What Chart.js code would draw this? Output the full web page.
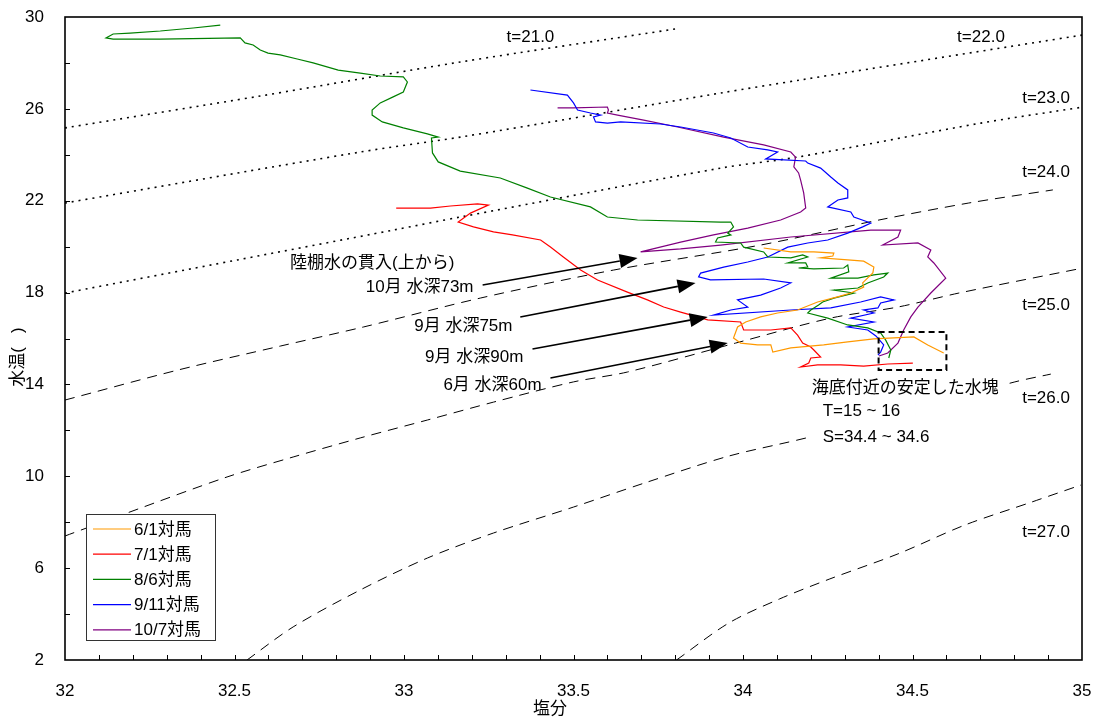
<!DOCTYPE html>
<html>
<head>
<meta charset="utf-8">
<title>T-S diagram</title>
<script src="https://cdn.jsdelivr.net/npm/chart.js@4.4.0/dist/chart.umd.min.js"></script>
<style>
  html, body { margin: 0; padding: 0; background: #ffffff; }
</style>
</head>
<body>
<canvas id="tsChart" width="1093" height="720"></canvas>
<script>
// axis ticks (salinity / temperature)
var xTicks = [32, 32.5, 33, 33.5, 34, 34.5, 35];
var yTicks = [2, 6, 10, 14, 18, 22, 26, 30];

var seriesNames = ["6/1対馬", "7/1対馬", "8/6対馬", "9/11対馬", "10/7対馬"];
var seriesColors = ["#ff9900", "#ff0000", "#008000", "#0000ff", "#800080"];

var junS = [34.061, 34.141, 34.209, 34.268, 34.265, 34.229, 34.309, 34.356, 34.386, 34.383, 34.353, 34.356, 34.318, 34.279, 34.220, 34.161, 34.102, 34.052, 34.008, 33.984, 33.972, 33.993, 34.043, 34.082, 34.088, 34.141, 34.238, 34.309, 34.386, 34.504, 34.545, 34.592];
var junT = [19.94, 19.77, 19.77, 19.72, 19.59, 19.51, 19.42, 19.37, 19.11, 18.85, 18.42, 18.24, 17.98, 17.81, 17.59, 17.24, 17.11, 16.94, 16.72, 16.50, 16.02, 15.80, 15.72, 15.72, 15.41, 15.59, 15.72, 15.85, 15.98, 16.07, 15.72, 15.37];

var julS = [32.977, 33.028, 33.078, 33.137, 33.217, 33.249, 33.196, 33.160, 33.205, 33.264, 33.320, 33.403, 33.432, 33.470, 33.521, 33.571, 33.659, 33.718, 33.766, 33.816, 33.866, 33.896, 33.993, 34.002, 34.082, 34.141, 34.161, 34.176, 34.200, 34.209, 34.229, 34.200, 34.194, 34.170, 34.220, 34.288, 34.356, 34.427, 34.501];
var julT = [21.68, 21.68, 21.68, 21.77, 21.86, 21.81, 21.46, 21.07, 20.86, 20.64, 20.51, 20.29, 19.98, 19.55, 18.98, 18.55, 18.02, 17.68, 17.37, 17.15, 16.94, 16.81, 16.72, 16.37, 16.37, 16.46, 16.15, 15.80, 15.63, 15.50, 15.19, 15.15, 14.93, 14.76, 14.85, 14.85, 14.80, 14.89, 14.93];

var augS = [32.458, 32.378, 32.281, 32.192, 32.142, 32.121, 32.142, 32.281, 32.517, 32.531, 32.555, 32.576, 32.599, 32.635, 32.685, 32.732, 32.806, 32.871, 32.930, 32.998, 33.010, 32.998, 32.968, 32.930, 32.906, 32.906, 32.936, 32.998, 33.069, 33.101, 33.081, 33.084, 33.101, 33.166, 33.284, 33.364, 33.432, 33.550, 33.600, 33.689, 33.934, 33.964, 33.972, 33.955, 33.964, 33.925, 33.919, 33.993, 34.002, 34.061, 34.073, 34.141, 34.176, 34.191, 34.132, 34.185, 34.191, 34.164, 34.209, 34.297, 34.309, 34.312, 34.259, 34.339, 34.386, 34.427, 34.415, 34.368, 34.339, 34.268, 34.327, 34.268, 34.235, 34.223, 34.200, 34.191, 34.250, 34.309, 34.368, 34.406, 34.421, 34.436, 34.430];
var augT = [29.65, 29.52, 29.39, 29.30, 29.26, 29.09, 29.04, 29.04, 29.09, 28.87, 28.78, 28.56, 28.43, 28.35, 28.17, 28.00, 27.69, 27.56, 27.43, 27.39, 27.17, 26.73, 26.52, 26.26, 25.95, 25.73, 25.43, 25.17, 24.91, 24.77, 24.73, 24.08, 23.69, 23.29, 22.99, 22.55, 22.16, 21.73, 21.29, 21.16, 21.07, 21.07, 20.86, 20.59, 20.51, 20.38, 20.20, 20.16, 19.98, 19.77, 19.55, 19.51, 19.64, 19.55, 19.29, 19.29, 19.11, 19.07, 19.03, 19.07, 19.20, 18.90, 18.63, 18.63, 18.77, 18.85, 18.68, 18.42, 18.20, 18.11, 17.98, 17.76, 17.59, 17.46, 17.24, 17.11, 16.89, 16.59, 16.46, 16.24, 15.93, 15.50, 15.15];

var sepS = [33.373, 33.482, 33.500, 33.512, 33.550, 33.580, 33.559, 33.565, 33.600, 33.639, 33.757, 33.816, 33.913, 33.964, 34.014, 34.073, 34.102, 34.067, 34.185, 34.191, 34.229, 34.259, 34.280, 34.309, 34.309, 34.280, 34.250, 34.318, 34.327, 34.377, 34.353, 34.309, 34.250, 34.191, 34.132, 34.073, 34.014, 33.943, 33.875, 33.869, 33.904, 34.061, 34.141, 34.111, 34.052, 33.984, 34.014, 33.964, 33.913, 34.141, 34.259, 34.347, 34.406, 34.445, 34.406, 34.398, 34.356, 34.386, 34.318, 34.386, 34.309, 34.368, 34.392, 34.415, 34.406, 34.398];
var sepT = [26.82, 26.60, 26.26, 25.95, 25.82, 25.73, 25.65, 25.43, 25.38, 25.43, 25.34, 25.21, 24.95, 24.73, 24.34, 24.21, 24.12, 23.82, 23.73, 23.64, 23.42, 23.03, 22.77, 22.47, 22.12, 22.03, 21.73, 21.51, 21.29, 21.03, 20.86, 20.59, 20.29, 20.16, 19.98, 19.55, 19.33, 19.11, 18.85, 18.68, 18.55, 18.59, 18.42, 18.20, 17.89, 17.68, 17.37, 17.24, 17.02, 17.24, 17.33, 17.59, 17.81, 17.68, 17.55, 17.33, 17.24, 17.11, 16.89, 16.72, 16.50, 16.37, 16.11, 15.72, 15.41, 15.28];

var octS = [33.453, 33.500, 33.600, 33.603, 33.600, 33.630, 33.707, 33.807, 33.943, 34.061, 34.141, 34.155, 34.150, 34.164, 34.170, 34.179, 34.185, 34.170, 34.111, 34.014, 33.913, 33.816, 33.698, 33.816, 33.934, 34.141, 34.377, 34.465, 34.457, 34.412, 34.516, 34.554, 34.545, 34.563, 34.598, 34.554, 34.516, 34.495, 34.474, 34.457, 34.427, 34.401];
var octT = [26.04, 26.04, 26.08, 25.95, 25.82, 25.73, 25.51, 25.21, 24.77, 24.43, 24.12, 23.90, 23.47, 23.21, 22.90, 22.34, 21.68, 21.51, 21.16, 20.81, 20.51, 20.20, 19.77, 19.90, 20.07, 20.42, 20.72, 20.72, 20.42, 20.07, 20.16, 19.85, 19.55, 19.29, 18.63, 17.98, 17.37, 16.94, 16.37, 15.80, 15.37, 15.24];

// sigma-t isopycnals
var sigmaNames = ["t=21.0", "t=22.0", "t=23.0", "t=24.0", "t=25.0", "t=26.0", "t=27.0"];
var sig21S = [32.000, 32.576, 33.166, 33.801];
var sig21T = [25.17, 26.56, 28.04, 29.48];
var sig22S = [32.000, 32.871, 33.166, 33.934, 34.170, 35.003];
var sig22T = [21.90, 24.12, 24.77, 26.69, 27.26, 29.22];
var sig23S = [32.000, 32.508, 32.968, 33.166, 33.934, 34.161, 34.702, 35.003];
var sig23T = [17.98, 19.42, 20.72, 21.29, 23.42, 23.90, 25.38, 26.08];
var sig24S = [32.000, 32.334, 32.635, 32.880, 33.225, 33.618, 34.052, 34.401, 34.666, 34.914];
var sig24T = [13.32, 14.63, 15.67, 16.50, 17.76, 18.98, 20.07, 21.16, 21.90, 22.47];
var sig25S = [32.000, 32.183, 32.478, 32.673, 32.871, 33.069, 33.264, 33.500, 33.659, 33.978, 34.259, 34.457, 34.637, 35.003];
var sig25T = [7.40, 8.40, 9.97, 10.84, 11.67, 12.45, 13.23, 14.11, 14.54, 15.80, 16.89, 17.37, 17.98, 19.07];
var sig26S = [32.537, 32.673, 32.871, 33.069, 33.264, 33.500, 33.710, 33.958, 34.197, 34.802, 34.908];
var sig26T = [2.00, 3.44, 5.05, 6.44, 7.53, 8.66, 9.71, 10.88, 11.71, 14.11, 14.45];
var sig27S = [33.804, 33.958, 34.108, 34.256, 34.457, 34.655, 34.852, 34.997];
var sig27T = [2.00, 3.61, 4.66, 5.53, 6.62, 7.88, 8.88, 9.62];

var FONT = '"Liberation Sans", Arial, "Noto Sans CJK JP", sans-serif';

function toPoints(sArr, tArr) {
  return sArr.map(function (s, i) { return { x: s, y: tArr[i] }; });
}

var seriesData = [
  toPoints(junS, junT),
  toPoints(julS, julT),
  toPoints(augS, augT),
  toPoints(sepS, sepT),
  toPoints(octS, octT),
];
var sigmaData = [
  toPoints(sig21S, sig21T),
  toPoints(sig22S, sig22T),
  toPoints(sig23S, sig23T),
  toPoints(sig24S, sig24T),
  toPoints(sig25S, sig25T),
  toPoints(sig26S, sig26T),
  toPoints(sig27S, sig27T),
];

var datasets = [];
// profiles first so they are drawn on top
seriesData.forEach(function (pts, i) {
  datasets.push({
    label: seriesNames[i],
    data: pts,
    showLine: true,
    borderColor: seriesColors[i],
    borderWidth: 1.2,
    pointRadius: 0,
    tension: 0,
  });
});
sigmaData.forEach(function (pts, i) {
  datasets.push({
    label: sigmaNames[i],
    data: pts,
    showLine: true,
    borderColor: "#000000",
    borderWidth: i < 3 ? 1.6 : 1,
    borderDash: i < 3 ? [2, 5] : [10, 7],
    pointRadius: 0,
    tension: 0.3,
  });
});

// annotation positions are given in data units (salinity, temperature)
var sigmaLabelPos = [
  [33.373, 29.13], [34.702, 29.13], [34.894, 26.47], [34.894, 23.25],
  [34.894, 17.46], [34.894, 13.41], [34.894, 7.57],
];
var arrows = [
  { from: [33.232, 18.33], to: [33.689, 19.51] },
  { from: [33.343, 16.94], to: [33.860, 18.42] },
  { from: [33.379, 15.54], to: [33.896, 16.94] },
  { from: [33.432, 14.28], to: [33.955, 15.80] },
];
var arrowTexts = [
  { text: "陸棚水の貫入(上から)", at: [32.664, 19.29], align: "left" },
  { text: "10月 水深73m", at: [33.205, 18.24], align: "right" },
  { text: "9月 水深75m", at: [33.320, 16.54], align: "right" },
  { text: "9月 水深90m", at: [33.352, 15.19], align: "right" },
  { text: "6月 水深60m", at: [33.406, 13.97], align: "right" },
];
var boxS = [34.4, 34.6];
var boxT = [14.63, 16.28];
var bottomTexts = [
  { text: "海底付近の安定した水塊", at: [34.203, 13.84] },
  { text: "T=15 ~ 16", at: [34.235, 12.84] },
  { text: "S=34.4 ~ 34.6", at: [34.235, 11.71] },
];

// wanted plot rectangle on the 1093x720 canvas
var AREA = { left: 65, right: 1082, top: 17, bottom: 660 };

var decorPlugin = {
  id: "decor",
  afterDatasetsDraw: function (chart) {
    var ctx = chart.ctx;
    var xs = chart.scales.x, ys = chart.scales.y;
    var area = chart.chartArea;
    function px(p) { return [xs.getPixelForValue(p[0]), ys.getPixelForValue(p[1])]; }

    ctx.save();
    ctx.font = "17px " + FONT;
    ctx.fillStyle = "#000";
    ctx.textBaseline = "middle";

    // text block over the stable water mass (white backing hides the isopycnal)
    var b0 = px(bottomTexts[0].at);
    ctx.fillStyle = "#fff";
    ctx.fillRect(b0[0] - 2, b0[1] - 11, 198, 62);
    ctx.fillStyle = "#000";
    ctx.textAlign = "left";
    bottomTexts.forEach(function (t) {
      var p = px(t.at);
      ctx.fillText(t.text, p[0], p[1]);
    });

    // isopycnal labels
    ctx.textAlign = "center";
    sigmaLabelPos.forEach(function (pos, i) {
      var p = px(pos);
      ctx.fillText(sigmaNames[i], p[0], p[1]);
    });

    // arrow captions
    arrowTexts.forEach(function (t) {
      var p = px(t.at);
      ctx.textAlign = t.align;
      ctx.fillText(t.text, p[0], p[1]);
    });

    // arrows
    ctx.strokeStyle = "#000";
    ctx.lineWidth = 1.6;
    arrows.forEach(function (a) {
      var p0 = px(a.from), p1 = px(a.to);
      var ang = Math.atan2(p1[1] - p0[1], p1[0] - p0[0]);
      var len = 18, half = 7;
      var bx = p1[0] - len * Math.cos(ang), by = p1[1] - len * Math.sin(ang);
      ctx.beginPath();
      ctx.moveTo(p0[0], p0[1]);
      ctx.lineTo(bx, by);
      ctx.stroke();
      ctx.beginPath();
      ctx.moveTo(p1[0], p1[1]);
      ctx.lineTo(bx + half * Math.sin(ang), by - half * Math.cos(ang));
      ctx.lineTo(bx - half * Math.sin(ang), by + half * Math.cos(ang));
      ctx.closePath();
      ctx.fill();
    });

    // dashed box
    var c0 = px([boxS[0], boxT[1]]), c1 = px([boxS[1], boxT[0]]);
    ctx.lineWidth = 2;
    ctx.setLineDash([6, 4]);
    ctx.strokeRect(c0[0], c0[1], c1[0] - c0[0], c1[1] - c0[1]);
    ctx.setLineDash([]);

    // legend
    var lx = area.left + 21, ly = area.top + 497;
    ctx.fillStyle = "#fff";
    ctx.fillRect(lx, ly, 129, 126);
    ctx.strokeStyle = "#333";
    ctx.lineWidth = 1;
    ctx.strokeRect(lx + 0.5, ly + 0.5, 129, 126);
    ctx.textAlign = "left";
    seriesNames.forEach(function (name, i) {
      var yy = ly + 15 + i * 25.2;
      ctx.strokeStyle = seriesColors[i];
      ctx.lineWidth = 1.2;
      ctx.beginPath();
      ctx.moveTo(lx + 7, yy);
      ctx.lineTo(lx + 45, yy);
      ctx.stroke();
      ctx.fillStyle = "#000";
      ctx.fillText(name, lx + 48, yy + 1);
    });

    // frame and inward ticks
    ctx.strokeStyle = "#000";
    ctx.lineWidth = 1.6;
    ctx.strokeRect(area.left, area.top, area.right - area.left, area.bottom - area.top);
    ctx.lineWidth = 1;
    ctx.beginPath();
    for (var k = 1; k < 30; k++) {
      var x = Math.round(xs.getPixelForValue(32 + k / 10)) + 0.5;
      ctx.moveTo(x, area.bottom);
      ctx.lineTo(x, area.bottom - 5);
    }
    for (var t = 4; t < 30; t += 2) {
      var y = Math.round(ys.getPixelForValue(t)) + 0.5;
      ctx.moveTo(area.left, y);
      ctx.lineTo(area.left + 5, y);
    }
    ctx.stroke();

    // axis titles
    ctx.fillStyle = "#000";
    ctx.textAlign = "center";
    ctx.fillText("塩分", area.left + 485, 709);
    ctx.translate(18, 357);
    ctx.rotate(-Math.PI / 2);
    ctx.fillText("水温(   )", 0, 0);
    ctx.restore();
  },
};

var ctx = document.getElementById("tsChart").getContext("2d");
var tsChart = new Chart(ctx, {
  type: "scatter",
  data: { datasets: datasets },
  options: {
    responsive: false,
    animation: false,
    layout: { padding: { left: 0, right: 1093 - AREA.right, top: AREA.top, bottom: 0 } },
    plugins: {
      legend: { display: false },
      tooltip: { enabled: false },
    },
    scales: {
      x: {
        type: "linear",
        min: 32,
        max: 35,
        afterBuildTicks: function (scale) {
          scale.ticks = xTicks.map(function (v) { return { value: v }; });
        },
        afterFit: function (scale) {
          scale.height = 720 - AREA.bottom;
          scale.paddingLeft = 0;
          scale.paddingRight = 0;
        },
        grid: { display: false },
        border: { display: false },
        ticks: {
          color: "#000",
          font: { family: FONT, size: 17 },
          padding: 13,
          maxRotation: 0,
          autoSkip: false,
          callback: function (v) { return String(v); },
        },
      },
      y: {
        type: "linear",
        min: 2,
        max: 30,
        afterBuildTicks: function (scale) {
          scale.ticks = yTicks.map(function (v) { return { value: v }; });
        },
        afterFit: function (scale) {
          scale.width = AREA.left;
          scale.paddingTop = 0;
          scale.paddingBottom = 0;
        },
        grid: { display: false },
        border: { display: false },
        ticks: {
          color: "#000",
          font: { family: FONT, size: 17 },
          padding: 13,
          autoSkip: false,
          callback: function (v) { return String(v); },
        },
      },
    },
  },
  plugins: [decorPlugin],
});

// nudge the layout padding once so the plot box lands where the reference has it
var ca = tsChart.chartArea;
var pad = tsChart.options.layout.padding;
pad.top += AREA.top - ca.top;
pad.right += ca.right - AREA.right;
tsChart.update();
</script>
</body>
</html>
